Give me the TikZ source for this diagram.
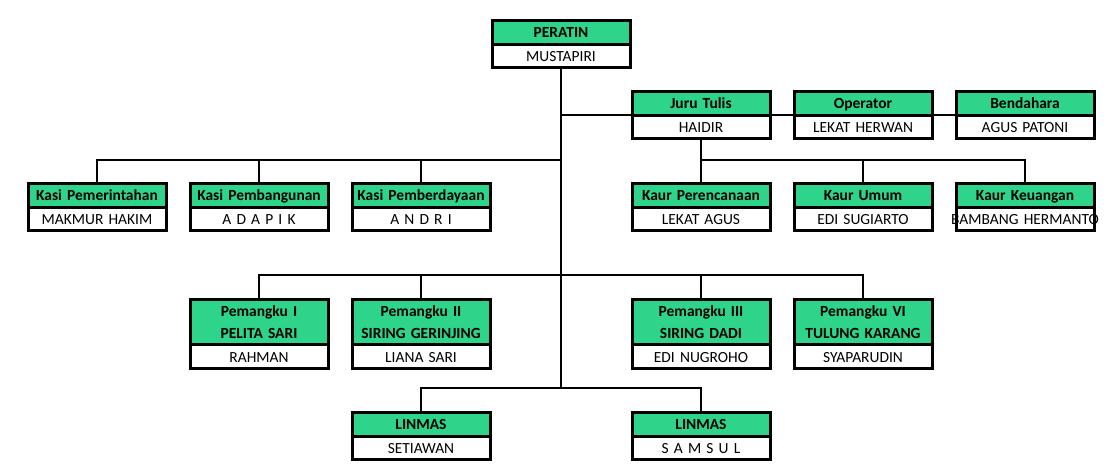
\documentclass[tikz,border=0pt]{standalone}
\usepackage{fontspec}
\setmainfont{Carlito}
\usetikzlibrary{shapes.multipart}
\definecolor{unitgreen}{RGB}{45,212,137}
\newcommand\ustrut{\rule[-2.6pt]{0pt}{13.5pt}}
\tikzset{
  unit/.style={rectangle split, rectangle split parts=2,
    rectangle split part fill={unitgreen,white},
    draw, line width=2.25pt, anchor=north,
    text width=103.5pt, align=center, inner xsep=0pt, inner ysep=1pt,
    font=\fontsize{11.6}{13.5}\selectfont},
  link/.style={line width=1.5pt}
}
\begin{document}
\begin{tikzpicture}[x=0.75pt,y=-0.75pt]
\useasboundingbox (0,0) rectangle (1118,474);
% head
\node[unit] (peratin) at (561,19) {\ustrut\textbf{PERATIN}\nodepart{two}\ustrut MUSTAPIRI};
\node[unit] (juru) at (701,90) {\ustrut\textbf{Juru Tulis}\nodepart{two}\ustrut HAIDIR};
\node[unit] (operator) at (863,90) {\ustrut\textbf{Operator}\nodepart{two}\ustrut LEKAT HERWAN};
\node[unit] (bendahara) at (1025,90) {\ustrut\textbf{Bendahara}\nodepart{two}\ustrut AGUS PATONI};
% kasi and kaur
\node[unit] (kasiA) at (97,182) {\ustrut\textbf{Kasi Pemerintahan}\nodepart{two}\ustrut MAKMUR HAKIM};
\node[unit] (kasiB) at (259,182) {\ustrut\textbf{Kasi Pembangunan}\nodepart{two}\ustrut A D A P I K};
\node[unit] (kasiC) at (421,182) {\ustrut\textbf{Kasi Pemberdayaan}\nodepart{two}\ustrut A N D R I};
\node[unit] (kaurA) at (701,182) {\ustrut\textbf{Kaur Perencanaan}\nodepart{two}\ustrut LEKAT AGUS};
\node[unit] (kaurB) at (863,182) {\ustrut\textbf{Kaur Umum}\nodepart{two}\ustrut EDI SUGIARTO};
\node[unit] (kaurC) at (1025,182) {\ustrut\textbf{Kaur Keuangan}\nodepart{two}\makebox[\linewidth][c]{\ustrut BAMBANG HERMANTO}};
% pemangku
\node[unit] (pemA) at (259,298) {\ustrut\textbf{Pemangku I}\\[2.6pt]\ustrut\textbf{PELITA SARI}\nodepart{two}\ustrut RAHMAN};
\node[unit] (pemB) at (421,298) {\ustrut\textbf{Pemangku II}\\[2.6pt]\ustrut\textbf{SIRING GERINJING}\nodepart{two}\ustrut LIANA SARI};
\node[unit] (pemC) at (701,298) {\ustrut\textbf{Pemangku III}\\[2.6pt]\ustrut\textbf{SIRING DADI}\nodepart{two}\ustrut EDI NUGROHO};
\node[unit] (pemD) at (863,298) {\ustrut\textbf{Pemangku VI}\\[2.6pt]\ustrut\textbf{TULUNG KARANG}\nodepart{two}\ustrut SYAPARUDIN};
% linmas
\node[unit] (linA) at (421,411) {\ustrut\textbf{LINMAS}\nodepart{two}\ustrut SETIAWAN};
\node[unit] (linB) at (701,411) {\ustrut\textbf{LINMAS}\nodepart{two}\ustrut S A M S U L};
% buses
\coordinate (busKasi) at (561,160);
\coordinate (busKaur) at (701,160);
\coordinate (busPem) at (561,275);
\coordinate (busLin) at (561,388);
% connectors
\draw[link] (peratin.south) -- (busLin);
\draw[link] (peratin.south |- juru.west) -- (juru.west);
\draw[link] (juru.east) -- (operator.west);
\draw[link] (operator.east) -- (bendahara.west);
\draw[link] (kasiA.north) |- (busKasi);
\draw[link] (kasiB.north) -- (kasiB.north |- busKasi);
\draw[link] (kasiC.north) -- (kasiC.north |- busKasi);
\draw[link] (juru.south) -- (kaurA.north);
\draw[link] (busKaur) -| (kaurC.north);
\draw[link] (kaurB.north) -- (kaurB.north |- busKaur);
\draw[link] (pemA.north) |- (busPem) -| (pemD.north);
\draw[link] (pemB.north) -- (pemB.north |- busPem);
\draw[link] (pemC.north) -- (pemC.north |- busPem);
\draw[link] (linA.north) |- (busLin) -| (linB.north);
\end{tikzpicture}
\end{document}
